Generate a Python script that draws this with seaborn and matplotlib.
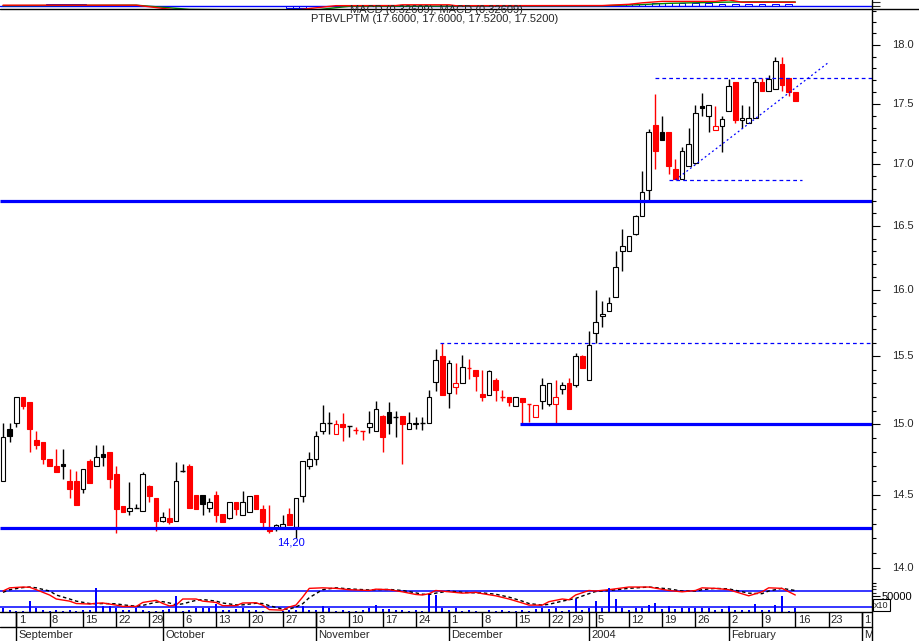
import numpy as np
import pandas as pd
import seaborn as sns
import matplotlib
matplotlib.use("Agg")
import matplotlib.pyplot as plt
from matplotlib.lines import Line2D
from matplotlib.ticker import FixedLocator, NullFormatter

# daily OHLC, one entry per trading day (Aug 28 2003 .. Feb 16 2004)
opens = [14.60, 14.97, 15.01, 15.20, 15.16, 14.89, 14.87, 14.75, 14.70, 14.72,
         14.60, 14.60, 14.54, 14.74, 14.70, 14.79, 14.80, 14.65, 14.42, 14.39,
         14.41, 14.39, 14.56, 14.48, 14.32, 14.34, 14.32, 14.67, 14.70, 14.50,
         14.50, 14.41, 14.50, 14.37, 14.34, 14.45, 14.36, 14.38, 14.50, 14.40,
         14.27, 14.28, 14.28, 14.37, 14.28, 14.49, 14.70, 14.75, 14.95, 15.01,
         14.93, 15.00, 14.99, 14.96, 14.95, 14.98, 14.95, 15.06, 15.09, 15.05,
         15.06, 14.97, 15.00, 15.01, 15.01, 15.31, 15.50, 15.23, 15.27, 15.30,
         15.41, 15.40, 15.22, 15.21, 15.32, 15.20, 15.20, 15.13, 15.19, 15.15,
         15.05, 15.17, 15.15, 15.15, 15.26, 15.30, 15.29, 15.50, 15.32, 15.67,
         15.80, 15.84, 15.95, 16.30, 16.30, 16.44, 16.58, 16.79, 17.32, 17.26,
         17.26, 16.96, 16.88, 16.98, 17.01, 17.48, 17.40, 17.28, 17.31, 17.44,
         17.68, 17.36, 17.34, 17.38, 17.68, 17.61, 17.62, 17.84, 17.72, 17.60]
highs = [15.01, 15.01, 15.20, 15.20, 15.16, 14.95, 14.87, 14.75, 14.82, 14.82,
         14.68, 14.67, 14.68, 14.75, 14.85, 14.85, 14.80, 14.70, 14.42, 14.59,
         14.44, 14.66, 14.57, 14.48, 14.38, 14.41, 14.73, 14.72, 14.72, 14.50,
         14.50, 14.48, 14.53, 14.37, 14.45, 14.45, 14.53, 14.49, 14.50, 14.43,
         14.43, 14.30, 14.36, 14.41, 14.48, 14.74, 14.80, 14.95, 15.14, 15.09,
         15.03, 15.08, 14.99, 14.98, 14.95, 15.10, 15.17, 15.07, 15.16, 15.10,
         15.06, 15.09, 15.05, 15.05, 15.25, 15.55, 15.60, 15.47, 15.45, 15.51,
         15.48, 15.40, 15.40, 15.40, 15.34, 15.25, 15.20, 15.20, 15.19, 15.15,
         15.14, 15.34, 15.30, 15.32, 15.31, 15.34, 15.52, 15.51, 15.69, 16.00,
         15.92, 15.95, 16.30, 16.48, 16.42, 16.59, 16.94, 17.29, 17.58, 17.40,
         17.26, 17.04, 17.14, 17.30, 17.49, 17.59, 17.49, 17.48, 17.40, 17.71,
         17.68, 17.49, 17.48, 17.71, 17.72, 17.74, 17.90, 17.90, 17.72, 17.60]
lows = [14.60, 14.87, 14.98, 15.11, 14.80, 14.82, 14.72, 14.70, 14.66, 14.61,
        14.48, 14.43, 14.51, 14.58, 14.70, 14.70, 14.55, 14.24, 14.38, 14.36,
        14.41, 14.39, 14.45, 14.25, 14.31, 14.30, 14.32, 14.66, 14.41, 14.40,
        14.36, 14.38, 14.31, 14.31, 14.33, 14.36, 14.36, 14.38, 14.40, 14.28,
        14.24, 14.25, 14.28, 14.29, 14.20, 14.45, 14.68, 14.71, 14.93, 14.93,
        14.93, 14.88, 14.91, 14.93, 14.89, 14.94, 14.95, 14.80, 14.93, 14.91,
        14.72, 14.97, 14.97, 14.96, 15.01, 15.24, 15.21, 15.12, 15.22, 15.30,
        15.33, 15.24, 15.17, 15.21, 15.17, 15.17, 15.13, 15.13, 15.01, 15.02,
        15.05, 15.11, 15.13, 15.01, 15.22, 15.11, 15.27, 15.41, 15.32, 15.60,
        15.72, 15.84, 15.95, 16.15, 16.30, 16.43, 16.58, 16.71, 16.96, 17.20,
        16.92, 16.88, 16.88, 16.98, 17.00, 17.40, 17.26, 17.28, 17.10, 17.44,
        17.34, 17.30, 17.34, 17.38, 17.61, 17.61, 17.62, 17.61, 17.56, 17.52]
closes = [14.91, 14.92, 15.20, 15.13, 14.97, 14.85, 14.75, 14.70, 14.66, 14.70,
          14.54, 14.43, 14.68, 14.58, 14.77, 14.77, 14.61, 14.40, 14.38, 14.41,
          14.41, 14.65, 14.49, 14.32, 14.35, 14.31, 14.60, 14.67, 14.41, 14.40,
          14.44, 14.45, 14.36, 14.31, 14.45, 14.40, 14.45, 14.49, 14.40, 14.31,
          14.25, 14.29, 14.30, 14.29, 14.48, 14.74, 14.75, 14.92, 15.01, 15.01,
          15.00, 14.98, 14.99, 14.96, 14.95, 15.01, 15.11, 14.91, 15.01, 15.05,
          15.00, 15.01, 15.01, 15.01, 15.20, 15.47, 15.21, 15.45, 15.30, 15.42,
          15.41, 15.35, 15.20, 15.39, 15.25, 15.20, 15.16, 15.20, 15.16, 15.15,
          15.14, 15.29, 15.30, 15.20, 15.29, 15.11, 15.50, 15.41, 15.58, 15.76,
          15.82, 15.90, 16.18, 16.34, 16.42, 16.58, 16.77, 17.26, 17.11, 17.20,
          16.98, 16.88, 17.11, 17.16, 17.42, 17.46, 17.49, 17.31, 17.37, 17.65,
          17.36, 17.38, 17.38, 17.68, 17.61, 17.71, 17.86, 17.66, 17.60, 17.52]
volumes = [146, 83, 42, 42, 344, 146, 62, 42, 62, 42,
           62, 42, 62, 62, 750, 208, 188, 146, 62, 62,
           146, 62, 42, 42, 62, 104, 500, 42, 62, 146,
           146, 146, 250, 83, 83, 104, 146, 62, 62, 42,
           21, 21, 42, 62, 62, 188, 83, 83, 188, 146,
           42, 62, 42, 42, 62, 146, 229, 104, 104, 62,
           62, 42, 62, 42, 521, 542, 146, 62, 146, 42,
           62, 42, 21, 62, 42, 62, 42, 42, 83, 42,
           104, 146, 104, 146, 42, 83, 396, 62, 146, 354,
           146, 750, 396, 146, 83, 146, 146, 229, 292, 104,
           208, 104, 125, 146, 125, 146, 146, 83, 104, 188,
           62, 83, 62, 250, 62, 62, 229, 500, 42, 146]  # thousands

# oscillator in the lower pane (read at these days)
osc_days = [0, 1, 3, 4, 5, 7, 8, 10, 11, 13, 14, 15, 17, 18, 20, 21, 23, 24, 25, 26,
            27, 29, 30, 32, 33, 35, 36, 38, 39, 40, 42, 43, 44, 45, 46, 48, 50, 52, 55, 56,
            58, 60, 62, 63, 64, 65, 67, 69, 71, 72, 74, 76, 78, 79, 81, 82, 84, 85, 86, 88,
            89, 91, 94, 97, 100, 102, 104, 105, 107, 109, 112, 114, 115, 117, 119]
osc_k = [80, 92, 95, 94, 85, 65, 50, 42, 33, 31, 34, 35, 27, 22, 22, 37, 45, 33, 24, 27,
         50, 50, 42, 37, 25, 25, 35, 36, 27, 10, 8, 20, 27, 57, 90, 92, 90, 85, 82, 87,
         85, 77, 67, 65, 70, 82, 77, 72, 75, 70, 62, 50, 35, 27, 27, 40, 50, 47, 65, 82,
         80, 85, 95, 95, 82, 77, 82, 92, 90, 85, 62, 77, 92, 90, 65]
osc_d = [75, 85, 93, 95, 92, 80, 65, 50, 42, 33, 32, 33, 32, 28, 23, 26, 38, 40, 35, 28,
         32, 45, 48, 42, 35, 28, 28, 34, 33, 25, 12, 12, 20, 32, 55, 85, 92, 88, 84, 85,
         86, 82, 73, 68, 67, 72, 80, 75, 73, 73, 68, 57, 42, 33, 27, 30, 42, 47, 52, 70,
         78, 82, 90, 95, 88, 80, 80, 85, 90, 88, 72, 70, 80, 90, 82]

# MACD strip at the very top (mostly clipped)
macd_days = [0, 20, 26, 44, 50, 59, 60, 67, 68, 90, 94, 96, 99, 107, 109, 111, 119]
macd_vals = [0.09, 0.09, -0.3, -0.3, 0.05, 0.06, 0.12, 0.12, 0.05, 0.06, 0.16, 0.28,
             0.40, 0.40, 0.52, 0.33, 0.33]
signal_days = [0, 20, 28, 46, 52, 90, 96, 100, 108, 112, 119]
signal_vals = [0.05, 0.09, -0.25, -0.35, 0.0, 0.04, 0.14, 0.24, 0.33, 0.36, 0.35]
hist_days = [7, 8, 9, 10, 11, 12, 43, 44, 45, 92, 94, 96, 98, 100, 102, 104, 106, 108,
             110, 112, 114, 116, 118]
hist_vals = [0.17, 0.17, 0.17, 0.17, 0.17, 0.17, -0.1, -0.1, -0.1, 0.1, 0.15, 0.2,
             0.24, 0.25, 0.25, 0.24, 0.24, 0.22, 0.22, 0.22, 0.22, 0.2, 0.2]

# drawn support / resistance levels
support_levels = [16.70, 15.00, 14.27]
support_start = [None, 77.7, None]
dashed_levels = [15.60, 17.72, 16.87]
dashed_start = [65.6, 98.0, 100.0]
dashed_end = [None, None, 120.0]
trend_days = [101, 124]
trend_prices = [16.87, 17.85]

price_ticks = [14.0, 14.5, 15.0, 15.5, 16.0, 16.5, 17.0, 17.5, 18.0]
price_minor = [13.9, 14.1, 14.2, 14.3, 14.4, 14.6, 14.7, 14.8, 14.9, 15.1, 15.2, 15.3,
               15.4, 15.6, 15.7, 15.8, 15.9, 16.1, 16.2, 16.3, 16.4, 16.6, 16.7, 16.8,
               16.9, 17.1, 17.2, 17.3, 17.4, 17.6, 17.7, 17.8, 17.9, 18.1, 18.2, 18.3]

week_days = [2, 7, 12, 17, 22, 27, 32, 37, 42, 47, 52, 57, 62, 67, 72, 77, 82, 85,
             89, 94, 99, 104, 109, 114, 119, 124, 129]
week_labels = ["1", "8", "15", "22", "29", "6", "13", "20", "27", "3", "10", "17", "24",
               "1", "8", "15", "22", "29", "5", "12", "19", "26", "2", "9", "16", "23", "1"]
month_days = [2, 24, 47, 67, 88, 109, 129]
month_labels = ["September", "October", "November", "December", "2004", "February", "March"]

sns.set_theme(style="white")
plt.rcParams["font.family"] = ["Liberation Sans", "DejaVu Sans"]

W, H = 919, 641
X0, X1 = -0.45, 130.52
fig = plt.figure(figsize=(W / 100, H / 100), dpi=100)
fig.patch.set_facecolor("white")


def rect(top, bottom, right=872):
    return [0, 1 - bottom / H, right / W, (bottom - top) / H]


def bare(a):
    for s in a.spines.values():
        s.set_visible(False)
    a.set_facecolor("none")
    a.tick_params(axis="x", bottom=False, labelbottom=False)
    a.set_xlim(X0, X1)
    a.set_xlabel("")
    a.set_ylabel("")


df = pd.DataFrame({"o": opens, "h": highs, "l": lows, "c": closes, "v": volumes})
df["day"] = np.arange(len(df))
prev = df["c"].shift(1).fillna(df["c"])
df["col"] = np.where(df["c"] < prev, "red", "black")
df["filled"] = df["c"] < df["o"]

# price pane
ax = fig.add_axes(rect(9, 585.7))
ax.set_yscale("log")
ax.set_ylim(13.881, 18.314)
bare(ax)
ax.vlines(df["day"], df["l"], df["h"], colors=df["col"], lw=1, zorder=2)
for r in df.itertuples():
    lo, hi = min(r.o, r.c), max(r.o, r.c)
    if hi - lo < 0.005:
        ax.hlines(r.c, r.day - 0.36, r.day + 0.36, colors=r.col, lw=1, zorder=3)
    else:
        ax.bar(r.day, hi - lo, bottom=lo, width=0.7, color=r.col if r.filled else "white",
               edgecolor=r.col, linewidth=0.8, zorder=3)

for lvl, st in zip(support_levels, support_start):
    ax.hlines(lvl, X0 if st is None else st, X1, colors="blue", lw=2.3, zorder=4)
for lvl, st, en in zip(dashed_levels, dashed_start, dashed_end):
    ax.hlines(lvl, st, X1 if en is None else en, colors="blue", lw=0.9,
              linestyles=(0, (3, 2.5)), zorder=4)
ax.plot(trend_days, trend_prices, color="blue", lw=0.9, ls=(0, (1.5, 2.2)), zorder=4)
ax.text(43.3, 14.17, "14,20", color="blue", ha="center", va="center", fontsize=8)

ax.yaxis.tick_right()
ax.yaxis.set_major_locator(FixedLocator(price_ticks))
ax.yaxis.set_major_formatter(NullFormatter())
ax.yaxis.set_minor_locator(FixedLocator(price_minor))
ax.yaxis.set_minor_formatter(NullFormatter())
ax.tick_params(axis="y", which="major", right=True, left=False, direction="out",
               length=5.6, width=0.8, colors="black")
ax.tick_params(axis="y", which="minor", right=True, left=False, direction="out",
               length=2.7, width=0.8, colors="black")
for t in price_ticks:
    ax.text(1 + 20 / 872, t, f"{t:.1f}", transform=ax.get_yaxis_transform(),
            fontsize=8, ha="left", va="center", clip_on=False)

# top MACD strip
ax_top = fig.add_axes(rect(0, 9))
ax_top.set_ylim(-0.22, 0.51)
ax_top.axhline(0, color="blue", lw=1)
ax_top.bar(hist_days, hist_vals, width=1.0, color="none", edgecolor="blue", lw=0.7)
sns.lineplot(x=signal_days, y=signal_vals, ax=ax_top, color="green", lw=1)
sns.lineplot(x=macd_days, y=macd_vals, ax=ax_top, color="red", lw=1)
bare(ax_top)
ax_top.yaxis.tick_right()
ax_top.set_yticks([0.0, 0.35])
ax_top.set_yticklabels([])
ax_top.tick_params(axis="y", right=True, left=False, direction="out", length=5.6, width=0.8)

# lower pane: oscillator + volume
ax_low = fig.add_axes(rect(585.7, 612.3))
ax_low.set_ylim(0, 100)
ax_low.axhline(20, color="blue", lw=1.1)
ax_low.axhline(80, color="blue", lw=1.1)
sns.lineplot(x=osc_days, y=osc_d, ax=ax_low, color="black", lw=1, ls=(0, (2.5, 2)))
sns.lineplot(x=osc_days, y=osc_k, ax=ax_low, color="red", lw=1)
bare(ax_low)
ax_low.tick_params(axis="y", left=False, right=False, labelleft=False)

ax_vol = ax_low.twinx()
ax_vol.bar(df["day"], df["v"] * 1000, width=0.3, color="blue", lw=0, antialiased=False,
           zorder=3)
ax_vol.set_ylim(0, 816000)
bare(ax_vol)
ax_vol.yaxis.tick_right()
ax_vol.set_yticks([500000])
ax_vol.set_yticklabels(["50000"])
ax_vol.yaxis.set_minor_locator(FixedLocator([600000, 700000, 800000]))
ax_vol.yaxis.set_minor_formatter(NullFormatter())
ax_vol.tick_params(axis="y", which="major", right=True, direction="out", length=5.6,
                   width=0.8, pad=1.2, labelsize=8, colors="black")
ax_vol.tick_params(axis="y", which="minor", right=True, direction="out", length=2.7, width=0.8)
fig.text(874 / W, 1 - 605 / H, "x10", fontsize=6.5, ha="left", va="center",
         bbox=dict(boxstyle="square,pad=0.12", fc="white", ec="black", lw=0.8))

# date scale
ax_d = fig.add_axes(rect(612.3, 641))
ax_d.set_ylim(641, 612.3)
bare(ax_d)
ax_d.tick_params(axis="y", left=False, right=False, labelleft=False)
ax_d.vlines(week_days, 612.3, 626.7, colors="black", lw=1)
ax_d.vlines(month_days, 612.3, 641, colors="black", lw=1)
for d, lab in zip(week_days, week_labels):
    ax_d.text(d + 0.35, 620, lab, fontsize=8, ha="left", va="center", clip_on=True)
for d, lab in zip(month_days, month_labels):
    ax_d.text(d + 0.35, 634.5, lab, fontsize=8, ha="left", va="center", clip_on=True)

# frame lines
fig.add_artist(Line2D([0, 1], [1 - 9 / H] * 2, color="black", lw=1))
fig.add_artist(Line2D([0, 872 / W], [1 - 612.3 / H] * 2, color="black", lw=1))
fig.add_artist(Line2D([0, 872 / W], [1 - 626.7 / H] * 2, color="black", lw=1))
fig.add_artist(Line2D([872 / W] * 2, [0, 1], color="black", lw=1))

fig.text(436 / W, 1 - 10 / H, "MACD (0.32609), MACD (0.32609)", fontsize=8,
         ha="center", va="center")
fig.text(435 / W, 1 - 19 / H, "PTBVLPTM (17.6000, 17.6000, 17.5200, 17.5200)",
         fontsize=8, ha="center", va="center")

fig.savefig("out.png", dpi=100, facecolor="white")
